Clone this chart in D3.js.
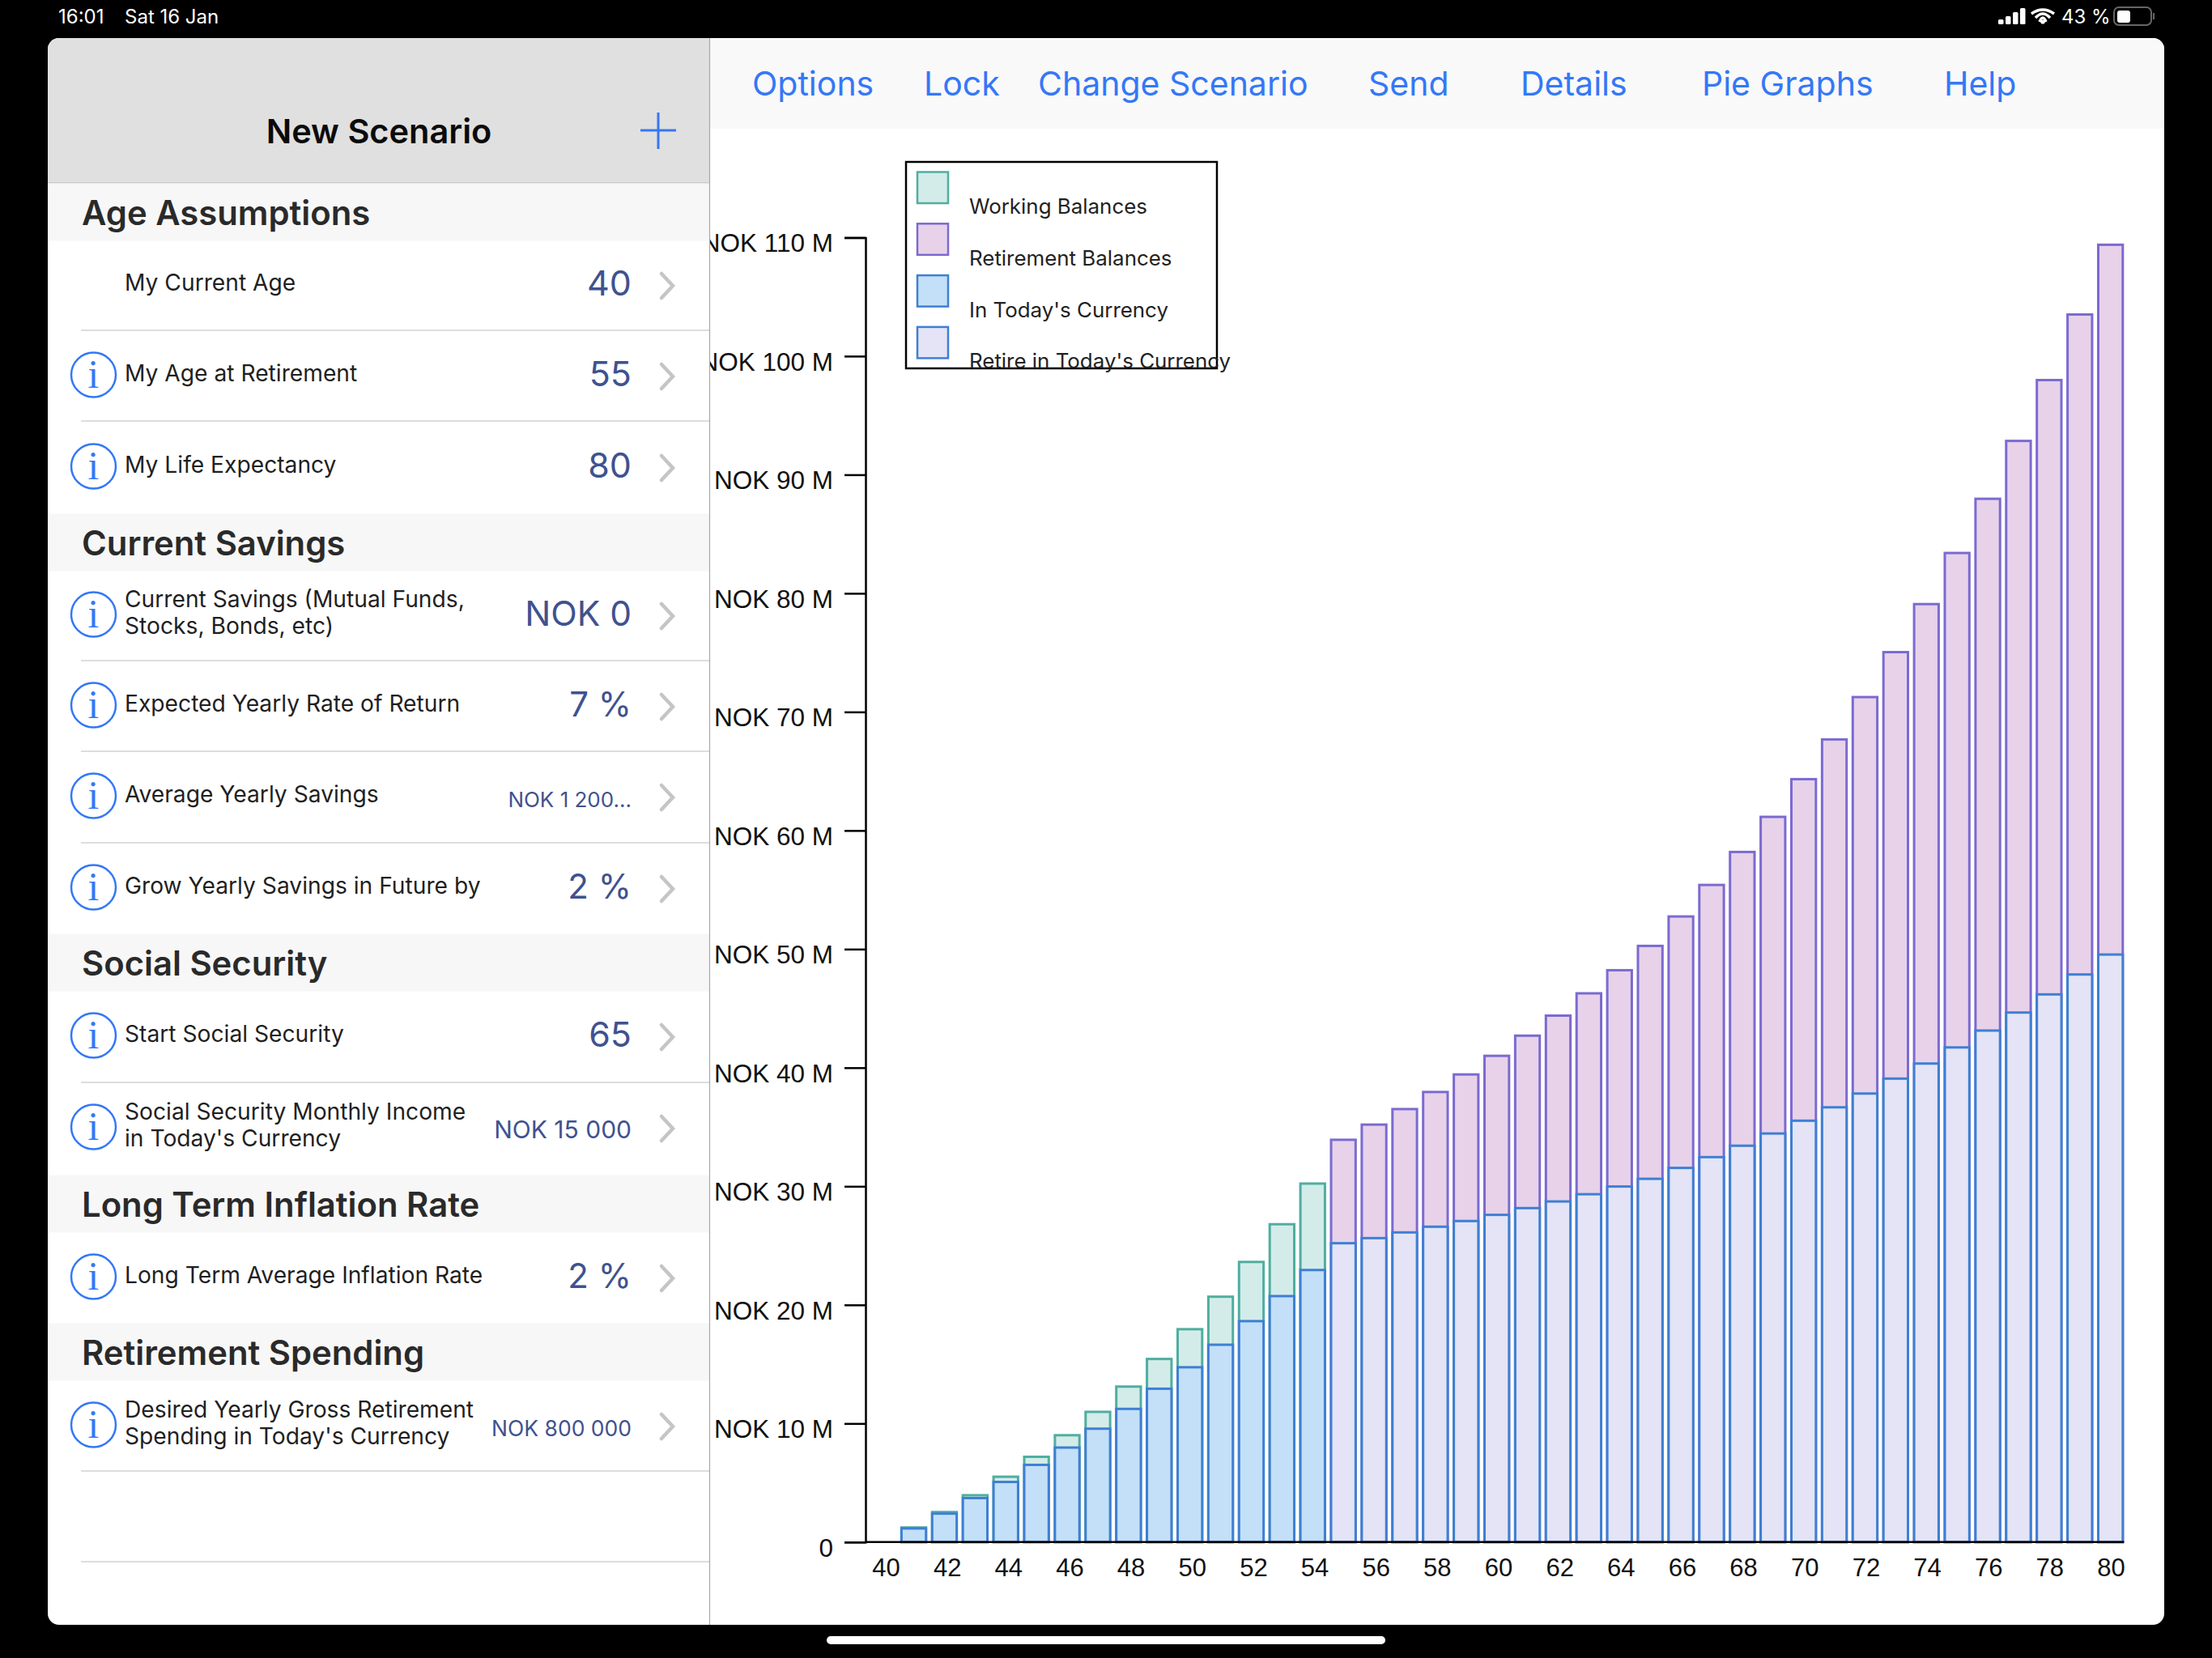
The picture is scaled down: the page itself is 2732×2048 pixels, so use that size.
<!DOCTYPE html>
<html lang="en">
<head>
<meta charset="utf-8">
<title>New Scenario</title>
<script src="https://cdn.jsdelivr.net/npm/d3@7"></script>
<style>
    html, body { margin: 0; padding: 0; background: #000; }
    svg { display: block; }
    text { font-family: Inter, "Noto Sans", sans-serif; }
    .axis text { font-family: "Liberation Sans", sans-serif; fill: #111; }
    .axis path, .axis line { stroke: #000; stroke-width: 2.5; fill: none; }
    .bar { stroke-width: 3; }
</style>
</head>
<body>
<div id="chart"></div>
<script>
// ---- chart values, NOK millions ----
const ages = d3.range(40, 81);
const tickAges = d3.range(40, 81, 2);
const yTicks = [0, 10, 20, 30, 40, 50, 60, 70, 80, 90, 100, 110];

const workingBalances = [0, 1.23, 2.53, 3.95, 5.51, 7.19, 9.01, 10.98, 13.11, 15.44, 17.95, 20.69, 23.62, 26.8, 30.23];
const workingToday = [0, 1.15, 2.40, 3.71, 5.07, 6.51, 7.97, 9.56, 11.23, 12.93, 14.74, 16.64, 18.63, 20.74, 22.94];
const retirementBalances = [33.92, 35.2, 36.51, 37.95, 39.43, 41.0, 42.7, 44.39, 46.27, 48.22, 50.27, 52.75, 55.41, 58.19, 61.15,
    64.33, 67.68, 71.25, 75.04, 79.09, 83.4, 87.97, 92.85, 97.98, 103.51, 109.39];
const retirementToday = [25.2, 25.63, 26.11, 26.59, 27.07, 27.59, 28.16, 28.72, 29.33, 29.98, 30.63, 31.55, 32.46, 33.42, 34.45,
    35.53, 36.66, 37.82, 39.08, 40.35, 41.71, 43.13, 44.65, 46.18, 47.86, 49.54];

const legendLabels = ["Working Balances", "Retirement Balances", "In Today's Currency", "Retire in Today's Currency"];

// ---- the rest of the screen ----
const navLabels = ["Options", "Lock", "Change Scenario", "Send", "Details", "Pie Graphs", "Help"];
const navX = [929, 1141, 1282, 1690, 1878, 2102, 2401];

const sectionTitles = ["Age Assumptions", "Current Savings", "Social Security", "Long Term Inflation Rate", "Retirement Spending"];
const sectionTops = [226, 634, 1153, 1451, 1634];
const sectionHeight = 71;

const rowLabels = [["My Current Age"], ["My Age at Retirement"], ["My Life Expectancy"],
    ["Current Savings (Mutual Funds,", "Stocks, Bonds, etc)"], ["Expected Yearly Rate of Return"], ["Average Yearly Savings"], ["Grow Yearly Savings in Future by"],
    ["Start Social Security"], ["Social Security Monthly Income", "in Today's Currency"],
    ["Long Term Average Inflation Rate"],
    ["Desired Yearly Gross Retirement", "Spending in Today's Currency"]];
const rowValues = ["40", "55", "80", "NOK 0", "7 %", "NOK 1 200...", "2 %", "65", "NOK 15 000", "2 %", "NOK 800 000"];
const rowValueSizes = [43, 43, 43, 42.5, 42, 26, 42, 43, 30, 42, 26.5];
const rowCentres = [352, 464, 577, 760, 872, 984, 1097, 1280, 1393, 1578, 1761];
const separatorYs = [408, 520, 816, 928, 1041, 1337, 1817, 1929];

const BLUE = "#3478f6";
const LEGEND_STYLE = [
    {fill: "#d3ecea", stroke: "#4fae9f"},
    {fill: "#e7d2ea", stroke: "#7b6ad0"},
    {fill: "#c3e0f8", stroke: "#3f7fd3"},
    {fill: "#e4e4f6", stroke: "#3f7fd3"}
];

const svg = d3.select("#chart").append("svg")
    .attr("width", 2732)
    .attr("height", 2048)
    .attr("viewBox", "0 0 2732 2048");

// status bar
svg.append("text").attr("x", 72).attr("y", 29).attr("fill", "#fff").attr("font-size", 24).text("16:01");
svg.append("text").attr("x", 154).attr("y", 29).attr("fill", "#fff").attr("font-size", 24).text("Sat 16 Jan");
svg.append("text").attr("x", 2546).attr("y", 29).attr("fill", "#fff").attr("font-size", 24).text("43 %");
[[2468, 24], [2477, 20], [2486, 15], [2495, 10]].forEach(function(b) {
    svg.append("rect").attr("x", b[0]).attr("y", b[1]).attr("width", 6.5).attr("height", 30 - b[1]).attr("rx", 1.5).attr("fill", "#fff");
});
[[14, 13], [9, 18], [4, 23]].forEach(function(w) {
    svg.append("path").attr("fill", "none").attr("stroke", "#fff").attr("stroke-width", 3.5)
        .attr("d", "M" + (2523 - w[0]) + "," + (w[1] + 4) + " Q2523," + (w[1] - 6) + " " + (2523 + w[0]) + "," + (w[1] + 4));
});
svg.append("circle").attr("cx", 2523).attr("cy", 27).attr("r", 2.6).attr("fill", "#fff");
svg.append("rect").attr("x", 2611).attr("y", 9).attr("width", 46).attr("height", 22).attr("rx", 6)
    .attr("fill", "none").attr("stroke", "#666").attr("stroke-width", 2);
svg.append("rect").attr("x", 2615).attr("y", 13).attr("width", 16).attr("height", 15).attr("rx", 3).attr("fill", "#fff");
svg.append("rect").attr("x", 2659).attr("y", 16).attr("width", 2).attr("height", 8).attr("fill", "#666");

// app window
let defs = svg.append("defs");
defs.append("clipPath").attr("id", "window").append("rect")
    .attr("x", 59).attr("y", 47).attr("width", 2614).attr("height", 1960).attr("rx", 14);
defs.append("clipPath").attr("id", "detailPane").append("rect")
    .attr("x", 877).attr("y", 47).attr("width", 1796).attr("height", 1960);

let win = svg.append("g").attr("clip-path", "url(#window)");
win.append("rect").attr("x", 59).attr("y", 47).attr("width", 2614).attr("height", 1960).attr("fill", "#fff");

// sidebar
win.append("rect").attr("x", 59).attr("y", 47).attr("width", 818).attr("height", 179).attr("fill", "#e0e0e0");
win.append("line").attr("x1", 59).attr("x2", 877).attr("y1", 226).attr("y2", 226).attr("stroke", "#b4b4b4").attr("stroke-width", 1);
win.append("text").attr("x", 468).attr("y", 176.5).attr("text-anchor", "middle")
    .attr("font-size", 41.5).attr("font-weight", 600).attr("fill", "#0b0b0b").text("New Scenario");
win.append("path").attr("stroke", BLUE).attr("stroke-width", 3).attr("fill", "none").attr("d", "M791,161H835M813,139V184");

win.selectAll(".section").data(sectionTitles).enter().append("rect")
    .attr("class", "section")
    .attr("x", 59).attr("width", 818)
    .attr("y", function(d, i) { return sectionTops[i] + 0.5; })
    .attr("height", sectionHeight)
    .attr("fill", "#f7f7f7");
win.selectAll(".sectionTitle").data(sectionTitles).enter().append("text")
    .attr("class", "sectionTitle")
    .attr("x", 101)
    .attr("y", function(d, i) { return sectionTops[i] + 52; })
    .attr("font-size", 41.8).attr("font-weight", 600).attr("fill", "#2a2a2a")
    .text(function(d) { return d; });

win.selectAll(".separator").data(separatorYs).enter().append("line")
    .attr("class", "separator")
    .attr("x1", 100).attr("x2", 877)
    .attr("y1", function(d) { return d; }).attr("y2", function(d) { return d; })
    .attr("stroke", "#d2d2d4").attr("stroke-width", 1.5);

let rows = win.selectAll(".row").data(rowLabels).enter().append("g")
    .attr("class", "row")
    .attr("transform", function(d, i) { return "translate(0," + rowCentres[i] + ")"; });

rows.filter(function(d, i) { return i > 0; }).append("circle")
    .attr("cx", 115.5).attr("cy", -1).attr("r", 27.5)
    .attr("fill", "none").attr("stroke", BLUE).attr("stroke-width", 2.5);
rows.filter(function(d, i) { return i > 0; }).append("text")
    .attr("x", 115.5).attr("y", 15).attr("text-anchor", "middle")
    .attr("font-size", 50).attr("fill", BLUE).style("font-family", "'Liberation Serif', serif").text("i");

rows.each(function(lines) {
    let g = d3.select(this);
    lines.forEach(function(line, j) {
        g.append("text")
            .attr("x", 154)
            .attr("y", lines.length == 1 ? 7 : -10 + j * 33)
            .attr("font-size", 28.2).attr("fill", "#1f1f1f")
            .text(line);
    });
});

rows.append("text")
    .attr("x", 780)
    .attr("y", 12.5)
    .attr("text-anchor", "end")
    .attr("font-size", function(d, i) { return rowValueSizes[i]; })
    .attr("fill", "#3f5290")
    .text(function(d, i) { return rowValues[i]; });

rows.append("path")
    .attr("d", "M817,-14L831,1L817,16")
    .attr("fill", "none").attr("stroke", "#c5c5c8").attr("stroke-width", 4.5).attr("stroke-linecap", "round");

// detail pane: nav bar and chart
win.append("rect").attr("x", 877).attr("y", 47).attr("width", 1796).attr("height", 112).attr("fill", "#f9f9f9");
win.selectAll(".nav").data(navLabels).enter().append("text")
    .attr("class", "nav")
    .attr("x", function(d, i) { return navX[i]; })
    .attr("y", 118)
    .attr("font-size", 41).attr("fill", BLUE)
    .text(function(d) { return d; });
win.append("line").attr("x1", 876.5).attr("x2", 876.5).attr("y1", 47).attr("y2", 2007).attr("stroke", "#a8a8a8").attr("stroke-width", 1.2);

let plot = win.append("g").attr("clip-path", "url(#detailPane)");

let xScale = d3.scaleBand()
    .domain(ages)
    .range([1071.7, 2625.6])
    .paddingInner(0.2)
    .paddingOuter(0.1);

// tick labels sit on a slightly tighter span than the bars in the original
let xLabelScale = d3.scalePoint()
    .domain(ages)
    .range([1094, 2607]);

let yScale = d3.scaleLinear()
    .domain([0, 110])
    .range([1904.8, 293.4]);

function drawBars(values, offset, style) {
    plot.selectAll(null).data(values).enter().append("rect")
        .attr("class", "bar")
        .attr("x", function(d, i) { return xScale(ages[i + offset]); })
        .attr("width", xScale.bandwidth())
        .attr("y", function(d) { return yScale(d); })
        .attr("height", function(d) { return yScale(0) - yScale(d); })
        .attr("fill", style.fill)
        .attr("stroke", style.stroke)
        .style("display", function(d) { return d > 0 ? null : "none"; });
}

drawBars(workingBalances, 0, LEGEND_STYLE[0]);
drawBars(retirementBalances, 15, LEGEND_STYLE[1]);
drawBars(workingToday, 0, LEGEND_STYLE[2]);
drawBars(retirementToday, 15, LEGEND_STYLE[3]);

let yAxis = d3.axisLeft(yScale)
    .tickValues(yTicks)
    .tickSize(26)
    .tickPadding(14)
    .tickFormat(function(d) { return d == 0 ? "0" : "NOK " + d + " M"; });
let yAxisG = plot.append("g").attr("class", "axis")
    .attr("transform", "translate(1069,0)")
    .call(yAxis);
yAxisG.selectAll("text").attr("dy", "0.55em").style("font-size", "31.5px");

let xAxis = d3.axisBottom(xLabelScale)
    .tickValues(tickAges)
    .tickSize(0)
    .tickPadding(0);
let xAxisG = plot.append("g").attr("class", "axis")
    .attr("transform", "translate(0,1922)")
    .call(xAxis);
xAxisG.select(".domain").remove();
xAxisG.selectAll("text").attr("y", 0).attr("dy", "0.82em").style("font-size", "31px");

plot.append("line").attr("x1", 1069).attr("x2", xScale(80) + xScale.bandwidth() + 1.5)
    .attr("y1", yScale(0)).attr("y2", yScale(0))
    .attr("stroke", "#000").attr("stroke-width", 2.5);

// legend
let legend = plot.append("g");
legend.append("rect").attr("x", 1119).attr("y", 200).attr("width", 384).attr("height", 255)
    .attr("fill", "#fff").attr("stroke", "#000").attr("stroke-width", 2.5);
legend.selectAll(".swatch").data(legendLabels).enter().append("rect")
    .attr("class", "swatch")
    .attr("x", 1133).attr("width", 38)
    .attr("y", function(d, i) { return 212.5 + i * 63.8; })
    .attr("height", 38.5)
    .attr("fill", function(d, i) { return LEGEND_STYLE[i].fill; })
    .attr("stroke", function(d, i) { return LEGEND_STYLE[i].stroke; })
    .attr("stroke-width", 2.5);
legend.selectAll(".legendLabel").data(legendLabels).enter().append("text")
    .attr("class", "legendLabel")
    .attr("x", 1197)
    .attr("y", function(d, i) { return 264 + i * 63.8; })
    .attr("font-size", 25.9).attr("fill", "#222")
    .text(function(d) { return d; });

// home indicator
svg.append("rect").attr("x", 1021).attr("y", 2021).attr("width", 690).attr("height", 10).attr("rx", 5).attr("fill", "#fff");
</script>
</body>
</html>
